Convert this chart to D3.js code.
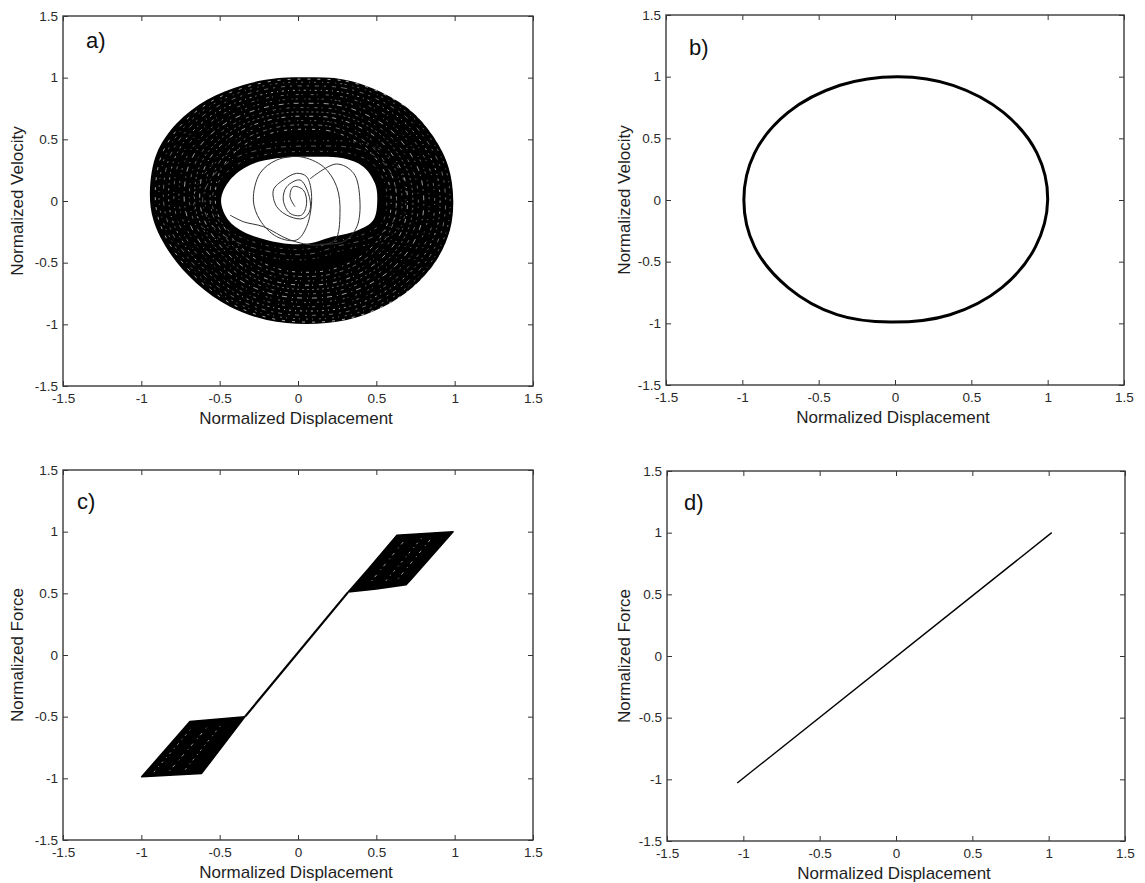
<!DOCTYPE html>
<html lang="en">
<head>
<meta charset="UTF-8">
<script src="https://d3js.org/d3.v7.min.js"></script>
<style>
    body { margin: 0; padding: 0; background: #fff; }
    svg { display: block; font-family: Arial, "Liberation Sans", sans-serif; }
    .tick text { font-size: 13.5px; fill: #2a2a2a; }
    .tick line { stroke: #333; }
    .frame { fill: none; stroke: #3a3a3a; stroke-width: 1.4; }
    .title { font-size: 17px; fill: #1e1e1e; }
    .tag { font-size: 22px; fill: #111; }
</style>
</head>
<body>
<div id="chart"></div>
<script>
// axis ticks shared by every panel
const tickValues = [-1.5, -1, -0.5, 0, 0.5, 1, 1.5];
const tickLabels = ["-1.5", "-1", "-0.5", "0", "0.5", "1", "1.5"];

// a) chaotic response: outer edge of the dense band, edge of the empty hole, transient loops
const outerEdgeA = [[0.055,1.003],[0.289,0.986],[0.502,0.900],[0.715,0.738],[0.864,0.522],[0.960,0.278],
    [0.991,0.008],[0.970,-0.235],[0.885,-0.478],[0.736,-0.695],[0.545,-0.857],[0.311,-0.965],[0.055,-0.997],
    [-0.200,-0.965],[-0.434,-0.857],[-0.647,-0.668],[-0.817,-0.424],[-0.923,-0.154],[-0.945,0.089],
    [-0.902,0.386],[-0.774,0.630],[-0.583,0.819],[-0.349,0.941],[-0.136,0.995]];
const holeEdgeA = [[-0.491,0.008],[-0.434,0.170],[-0.306,0.292],[-0.136,0.346],[0.077,0.359],[0.289,0.346],
    [0.417,0.278],[0.491,0.143],[0.506,0.008],[0.481,-0.154],[0.374,-0.241],[0.204,-0.295],[0.077,-0.343],
    [-0.051,-0.349],[-0.200,-0.316],[-0.349,-0.249],[-0.445,-0.154]];
const transientA = [[-0.019,-0.046],[-0.051,0.035],[-0.030,0.116],[0.034,0.089],[0.055,-0.019],[0.023,-0.114],
    [-0.051,-0.100],[-0.094,0.008],[-0.072,0.116],[0.013,0.170],[0.066,0.062],[0.077,-0.073],[0.034,-0.141],
    [-0.051,-0.127],[-0.136,-0.046],[-0.157,0.089],[-0.094,0.170],[-0.009,0.224],[0.055,0.197],[0.087,0.035],
    [0.055,-0.208],[-0.009,-0.316],[-0.136,-0.289],[-0.243,-0.154],[-0.285,0.008],[-0.243,0.224],[-0.136,0.332],
    [0.013,0.359],[0.162,0.278],[0.247,0.116],[0.268,-0.100],[0.236,-0.316],[0.119,-0.357],[-0.051,-0.316],
    [-0.221,-0.208],[-0.349,-0.168],[-0.434,-0.114]];
const transientA2 = [[0.077,0.180],[0.245,0.300],[0.355,0.225],[0.395,0.008],[0.375,-0.210],[0.290,-0.330],[0.140,-0.350]];
// white streaks inside the band (relative size of the band outline / of the hole outline)
const streakLevelsA = [0.58, 0.615, 0.65, 0.685, 0.72, 0.755, 0.79, 0.825, 0.86, 0.895, 0.93, 0.96, 0.985];
const holeStreakLevelsA = [1.12, 1.24, 1.36];

// b) linear response: closed orbit
const orbitB = [[1.0,0.0],[0.93,0.38],[0.71,0.71],[0.38,0.93],[0.02,1.0],[-0.36,0.93],[-0.70,0.71],[-0.92,0.38],
    [-0.99,0.0],[-0.92,-0.38],[-0.70,-0.71],[-0.38,-0.93],[-0.03,-0.99],[0.36,-0.93],[0.70,-0.71],[0.92,-0.38]];

// c) force-displacement loops
const linearC = [[-0.338,-0.50],[0.32,0.51]];
const upperLoopC = [[0.32,0.51],[0.45,0.70],[0.63,0.97],[0.99,1.0],[0.72,0.61],[0.69,0.57],[0.50,0.535],[0.32,0.51]];
const lowerLoopC = [[-0.338,-0.50],[-0.69,-0.54],[-0.998,-0.987],[-0.615,-0.96],[-0.338,-0.50]];
const streaksC = [
    [[0.47,0.60],[0.68,0.93]], [[0.56,0.60],[0.79,0.95]], [[0.64,0.62],[0.86,0.96]],
    [[-0.92,-0.95],[-0.67,-0.58]], [[-0.82,-0.94],[-0.57,-0.57]], [[-0.72,-0.93],[-0.48,-0.55]]];

// d) linear force-displacement
const lineD = [[-1.04,-1.03],[1.02,1.0]];

const dashes = ["3 4 1 6", "2 5 4 3", "1 3 2 7", "4 6 1 3", "2 3", "1 6 3 4", "5 4 1 5", "2 7 1 3", "3 3 1 8", "1 4 2 4", "4 5 2 6", "2 6 1 4", "3 7"];

const svg = d3.select("#chart").append("svg")
    .attr("width", 1145)
    .attr("height", 883);

const panels = [
    {key: "a", left: 63, top: 16, right: 533, bottom: 386, ylab: "Normalized Velocity", tagX: 86, tagY: 48},
    {key: "b", left: 666, top: 15, right: 1124, bottom: 385, ylab: "Normalized Velocity", tagX: 689, tagY: 55},
    {key: "c", left: 63, top: 470, right: 533, bottom: 840, ylab: "Normalized Force", tagX: 77, tagY: 509},
    {key: "d", left: 667, top: 471, right: 1125, bottom: 841, ylab: "Normalized Force", tagX: 684, tagY: 510}
];

const fmt = v => tickLabels[tickValues.indexOf(v)];

panels.forEach(p => {
    const x = d3.scaleLinear().domain([-1.5, 1.5]).range([p.left, p.right]);
    const y = d3.scaleLinear().domain([-1.5, 1.5]).range([p.bottom, p.top]);
    const g = svg.append("g");

    const line = d3.line().x(d => x(d[0])).y(d => y(d[1]));
    const closed = d3.line().x(d => x(d[0])).y(d => y(d[1])).curve(d3.curveCatmullRomClosed);
    const smooth = d3.line().x(d => x(d[0])).y(d => y(d[1])).curve(d3.curveCatmullRom);

    const plot = g.append("g");

    if (p.key === "a") {
        plot.append("path")
            .attr("d", closed(outerEdgeA) + closed(holeEdgeA))
            .attr("fill", "#000")
            .attr("fill-rule", "evenodd");
        streakLevelsA.forEach((k, i) => {
            plot.append("path")
                .attr("d", closed(outerEdgeA.map(d => [d[0] * k + 0.02, d[1] * k])))
                .attr("fill", "none")
                .attr("stroke", "#fff")
                .attr("stroke-width", i % 3 ? 0.6 : 0.9)
                .attr("stroke-opacity", 0.7)
                .attr("stroke-dasharray", dashes[i]);
        });
        holeStreakLevelsA.forEach((k, i) => {
            plot.append("path")
                .attr("d", closed(holeEdgeA.map(d => [d[0] * k, d[1] * k])))
                .attr("fill", "none")
                .attr("stroke", "#fff")
                .attr("stroke-width", 0.6)
                .attr("stroke-opacity", 0.6)
                .attr("stroke-dasharray", dashes[i + 5]);
        });
        plot.append("path")
            .attr("d", smooth(transientA))
            .attr("fill", "none").attr("stroke", "#333").attr("stroke-width", 1);
        plot.append("path")
            .attr("d", smooth(transientA2))
            .attr("fill", "none").attr("stroke", "#333").attr("stroke-width", 1);
    } else if (p.key === "b") {
        plot.append("path")
            .attr("d", closed(orbitB))
            .attr("fill", "none").attr("stroke", "#000").attr("stroke-width", 3);
    } else if (p.key === "c") {
        [upperLoopC, lowerLoopC].forEach(loop => {
            plot.append("path")
                .attr("d", line(loop))
                .attr("fill", "#000").attr("stroke", "#000").attr("stroke-width", 1.5)
                .attr("stroke-linejoin", "round");
        });
        streaksC.forEach((s, i) => {
            plot.append("path")
                .attr("d", line(s))
                .attr("fill", "none").attr("stroke", "#fff").attr("stroke-width", 0.8)
                .attr("stroke-opacity", 0.8)
                .attr("stroke-dasharray", i % 2 ? "2 5 1 4" : "1 4 3 6");
        });
        plot.append("path")
            .attr("d", line(linearC))
            .attr("fill", "none").attr("stroke", "#000").attr("stroke-width", 2.2);
    } else {
        plot.append("path")
            .attr("d", line(lineD))
            .attr("fill", "none").attr("stroke", "#000").attr("stroke-width", 1.4);
    }

    // axes with inward ticks on all four sides
    g.append("g").attr("transform", `translate(0,${p.bottom})`)
        .call(d3.axisBottom(x).tickValues(tickValues).tickFormat(fmt).tickSize(-5).tickPadding(7))
        .call(a => a.select(".domain").remove());
    g.append("g").attr("transform", `translate(0,${p.top})`)
        .call(d3.axisTop(x).tickValues(tickValues).tickFormat("").tickSize(-5))
        .call(a => a.select(".domain").remove());
    g.append("g").attr("transform", `translate(${p.left},0)`)
        .call(d3.axisLeft(y).tickValues(tickValues).tickFormat(fmt).tickSize(-5).tickPadding(5))
        .call(a => a.select(".domain").remove());
    g.append("g").attr("transform", `translate(${p.right},0)`)
        .call(d3.axisRight(y).tickValues(tickValues).tickFormat("").tickSize(-5))
        .call(a => a.select(".domain").remove());
    g.selectAll(".tick text").attr("font-family", null).attr("font-size", null);

    g.append("rect").attr("class", "frame")
        .attr("x", p.left).attr("y", p.top)
        .attr("width", p.right - p.left).attr("height", p.bottom - p.top);

    g.append("text").attr("class", "title")
        .attr("x", (p.left + p.right) / 2 - 2).attr("y", p.bottom + 38)
        .attr("text-anchor", "middle")
        .text("Normalized Displacement");
    const yx = p.left < 300 ? 23 : 630;
    g.append("text").attr("class", "title")
        .attr("transform", `translate(${yx},${(p.top + p.bottom) / 2}) rotate(-90)`)
        .attr("text-anchor", "middle")
        .text(p.ylab);

    g.append("text").attr("class", "tag")
        .attr("x", p.tagX).attr("y", p.tagY)
        .text(p.key + ")");
});
</script>
</body>
</html>
